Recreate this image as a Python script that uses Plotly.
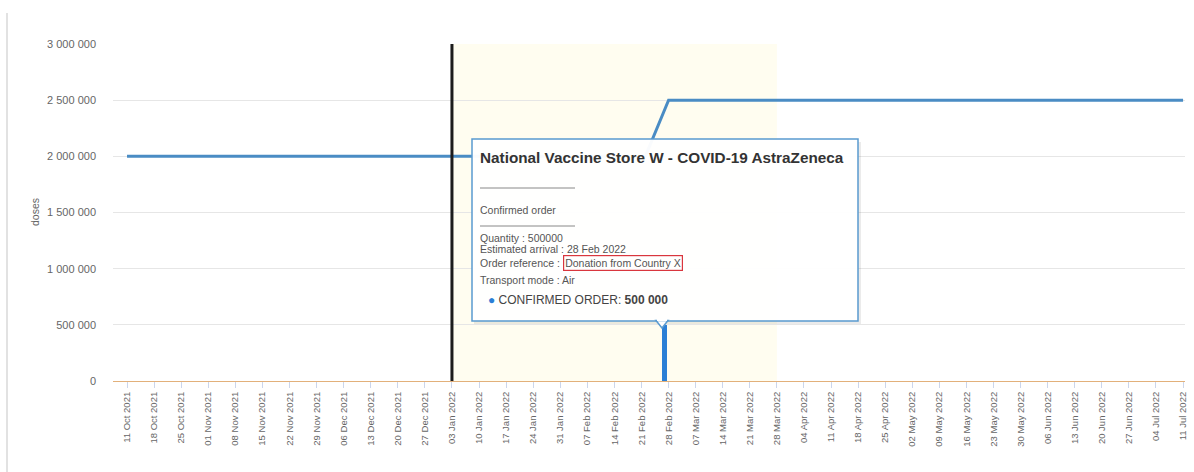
import plotly.graph_objects as go

# ---------------- data ----------------
line_dates = ["2021-10-11", "2022-02-22", "2022-02-28", "2022-07-11"]
line_values = [2000000, 2000000, 2500000, 2500000]

bar_dates = ["2022-02-27"]
bar_values = [500000]

today_date = "2022-01-03"
shade_start = "2022-01-03"
shade_end = "2022-03-28"

y_ticks = [0, 500000, 1000000, 1500000, 2000000, 2500000, 3000000]
x_tick0 = "2021-10-11"

tooltip_title = "National Vaccine Store W - COVID-19 AstraZeneca"
tooltip_status = "Confirmed order"
tooltip_quantity = "Quantity : 500000"
tooltip_arrival = "Estimated arrival : 28 Feb 2022"
tooltip_ref_label = "Order reference :"
tooltip_ref_value = "Donation from Country X"
tooltip_transport = "Transport mode : Air"
tooltip_series = "CONFIRMED ORDER"
tooltip_value = "500 000"

# ---------------- layout helpers ----------------
W, H = 1194, 472
L, R, T, B = 113, 1185, 44, 381


def px(x):
    return (x - L) / (R - L)


def py(y):
    return (B - y) / (B - T)


FONT = "Liberation Sans, Arial, sans-serif"

fig = go.Figure()

fig.add_trace(go.Scatter(
    x=line_dates, y=line_values, mode="lines",
    line=dict(color="#4a8cc4", width=3),
    cliponaxis=False, showlegend=False,
))

fig.add_trace(go.Bar(
    x=bar_dates, y=bar_values,
    width=[1.3 * 86400000],
    marker=dict(color="#2b7fd6", line=dict(width=0)),
    showlegend=False,
))

shapes = []
# shaded period
shapes.append(dict(type="rect", xref="x", yref="paper", x0=shade_start, x1=shade_end,
                   y0=0, y1=1, fillcolor="#fffdf0", line=dict(width=0), layer="below"))
# today line
shapes.append(dict(type="line", xref="x", yref="y", x0=today_date, x1=today_date,
                   y0=0, y1=3000000, line=dict(color="#1c1c1c", width=3), layer="above"))
# page frame line at left
shapes.append(dict(type="line", xref="paper", yref="paper", x0=px(7), x1=px(7),
                   y0=py(13), y1=py(472), line=dict(color="#e2e2e2", width=2)))

# tooltip shadow
shapes.append(dict(type="rect", xref="paper", yref="paper", x0=px(474), x1=px(861),
                   y0=py(324), y1=py(142), fillcolor="rgba(0,0,0,0.08)",
                   line=dict(width=0), layer="above"))
# tooltip box
shapes.append(dict(type="rect", xref="paper", yref="paper", x0=px(472), x1=px(858),
                   y0=py(321), y1=py(139), fillcolor="rgba(255,255,255,0.97)",
                   line=dict(color="#5a9bd0", width=1.5), layer="above"))
# tooltip pointer
shapes.append(dict(type="path", xref="paper", yref="paper",
                   path=f"M {px(656)} {py(320.5)} L {px(662)} {py(328)} L {px(668)} {py(320.5)} Z",
                   fillcolor="#ffffff", line=dict(color="#5a9bd0", width=1.5), layer="above"))
shapes.append(dict(type="line", xref="paper", yref="paper", x0=px(657), x1=px(667),
                   y0=py(320), y1=py(320), line=dict(color="#ffffff", width=2), layer="above"))
# separator lines in tooltip
for yy in (188, 226):
    shapes.append(dict(type="line", xref="paper", yref="paper", x0=px(480), x1=px(575),
                       y0=py(yy), y1=py(yy), line=dict(color="#888888", width=1), layer="above"))

annotations = []


def txt(x, y, text, size, color="#555555", **kw):
    d = dict(xref="paper", yref="paper", x=px(x), y=py(y), text=text, showarrow=False,
             xanchor="left", yanchor="middle", font=dict(family=FONT, size=size, color=color))
    d.update(kw)
    annotations.append(d)


txt(478, 157, f"<b>{tooltip_title}</b>", 15.3, "#333333")
txt(478, 210, tooltip_status, 10.5)
txt(478, 238, tooltip_quantity, 10.5)
txt(478, 249, tooltip_arrival, 10.5)
txt(478, 263, tooltip_ref_label, 10.5)
txt(563, 263, tooltip_ref_value, 10.5, bordercolor="#d9363e", borderwidth=1.2, borderpad=1)
txt(478, 280, tooltip_transport, 10.5)
txt(486, 300, f"<span style='color:#2b7fd6'>●</span> {tooltip_series}: <b>{tooltip_value}</b>", 12, "#444444")

# y-axis title
annotations.append(dict(xref="paper", yref="paper", x=px(35), y=py(212), text="doses",
                        showarrow=False, textangle=-90, xanchor="center", yanchor="middle",
                        font=dict(family=FONT, size=10.5, color="#666666")))

fig.update_layout(
    width=W, height=H,
    margin=dict(l=L, r=W - R, t=T, b=H - B, autoexpand=False),
    paper_bgcolor="#ffffff", plot_bgcolor="#ffffff",
    separators=". ",
    font=dict(family=FONT, color="#666666"),
    shapes=shapes, annotations=annotations,
    hovermode=False, bargap=0,
    xaxis=dict(
        type="date",
        range=["2021-10-07 09:00", "2022-07-11 12:00"],
        tickmode="linear", tick0=x_tick0, dtick=7 * 86400000,
        tickformat="%d %b %Y", tickangle=-90,
        tickfont=dict(family=FONT, size=9.5, color="#666666"),
        ticks="outside", ticklen=6, tickcolor="#ccd6eb",
        showgrid=False, zeroline=False,
        showline=True, linecolor="#e2b07a", linewidth=1,
        automargin=False,
    ),
    yaxis=dict(
        range=[0, 3000000],
        tickvals=y_ticks, tickformat=",d",
        tickfont=dict(family=FONT, size=11, color="#666666"),
        ticklabelstandoff=16,
        showgrid=True, gridcolor="#e6e6e6", gridwidth=1,
        zeroline=False, showline=False,
        automargin=False,
    ),
)

fig.write_html("out.html", config={"displayModeBar": False},
               post_script="document.body.style.margin='0px';")
